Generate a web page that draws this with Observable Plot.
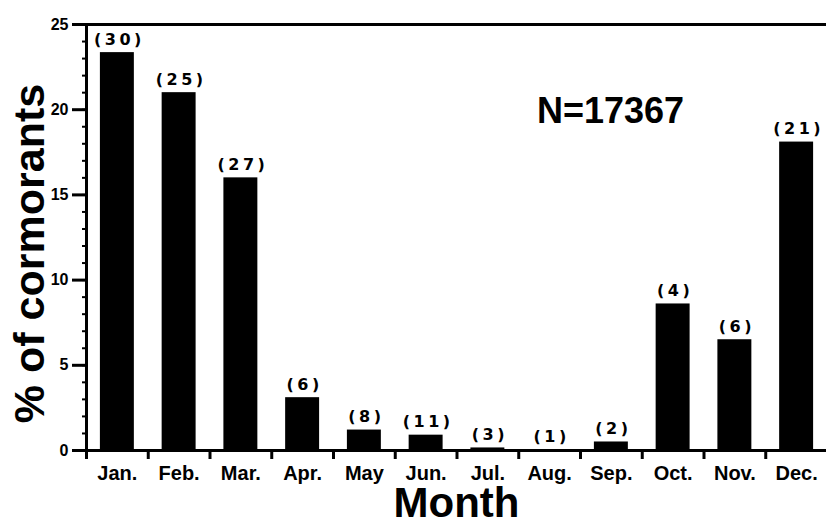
<!DOCTYPE html>
<html>
<head>
<meta charset="utf-8">
<script src="https://cdn.jsdelivr.net/npm/d3@7"></script>
<script src="https://cdn.jsdelivr.net/npm/@observablehq/plot@0.6"></script>
<style>
  body { margin: 0; background: #fff; }
</style>
</head>
<body>
<div id="chart"></div>
<script>
const months = ["Jan.", "Feb.", "Mar.", "Apr.", "May", "Jun.", "Jul.", "Aug.", "Sep.", "Oct.", "Nov.", "Dec."];
const percents = [23.35, 21.0, 16.0, 3.1, 1.2, 0.9, 0.15, 0.05, 0.5, 8.6, 6.5, 18.1];
const counts = ["(30)", "(25)", "(27)", "(6)", "(8)", "(11)", "(3)", "(1)", "(2)", "(4)", "(6)", "(21)"];
const majorTicks = [0, 5, 10, 15, 20, 25];
const minorTicks = [0, 1, 2, 3, 4, 5, 6, 7, 8, 9, 10, 11, 12, 13, 14, 15, 16, 17, 18, 19, 20, 21, 22, 23, 24, 25];
const yLabel = "% of cormorants";
const xLabel = "Month";
const note = "N=17367";

const data = months.map((m, i) => ({month: m, pct: percents[i], n: counts[i]}));

const xRange = [86, 827];
const bw = (xRange[1] - xRange[0]) / months.length;

const chart = Plot.plot({
  width: 826,
  height: 525,
  marginLeft: 86,
  marginRight: 0,
  marginTop: 24,
  marginBottom: 75,
  x: {domain: months, range: xRange, paddingInner: 0.45, paddingOuter: 0.225, round: false, axis: null},
  y: {domain: [0, 25], axis: null},
  style: {fontFamily: "'Liberation Sans', Arial, sans-serif", fontWeight: "bold", color: "black", background: "white"},
  marks: [
    Plot.barY(data, {x: "month", y: "pct", fill: "black"}),
    Plot.ruleY([0], {strokeWidth: 3}),
    Plot.ruleY([25], {strokeWidth: 3}),
    Plot.frame({anchor: "left", strokeWidth: 3}),
    Plot.axisY({ticks: minorTicks, tickSize: 4, tickFormat: () => "", strokeWidth: 2, label: null}),
    Plot.axisY({ticks: majorTicks, tickSize: 14, tickPadding: 4, fontSize: 16, strokeWidth: 3, label: null}),
    Plot.axisX({tickSize: 9, tickFormat: () => "", dx: -bw / 2, strokeWidth: 3, label: null}),
    Plot.axisX({tickSize: 0, tickPadding: 15, fontSize: 20, label: null}),
    Plot.text(data, {x: "month", y: "pct", text: "n", dy: -8, dx: 2, lineAnchor: "bottom",
      fontSize: 16, fontFamily: "'DejaVu Sans', sans-serif", fontWeight: "bold"}),
    Plot.text([note], {frameAnchor: "top", dx: 154, dy: 98, lineAnchor: "bottom", textAnchor: "middle", fontSize: 36}),
    Plot.text([xLabel], {frameAnchor: "bottom", dy: 66, lineAnchor: "bottom", textAnchor: "middle", fontSize: 42}),
    Plot.text([yLabel], {frameAnchor: "left", rotate: -90, dx: -43, dy: 16, lineAnchor: "bottom", textAnchor: "middle", fontSize: 43})
  ]
});
d3.select(chart).selectAll("text")
  .filter(function () { return counts.includes(this.textContent); })
  .style("letter-spacing", "3.5px");
document.getElementById("chart").appendChild(chart);
</script>
</body>
</html>
